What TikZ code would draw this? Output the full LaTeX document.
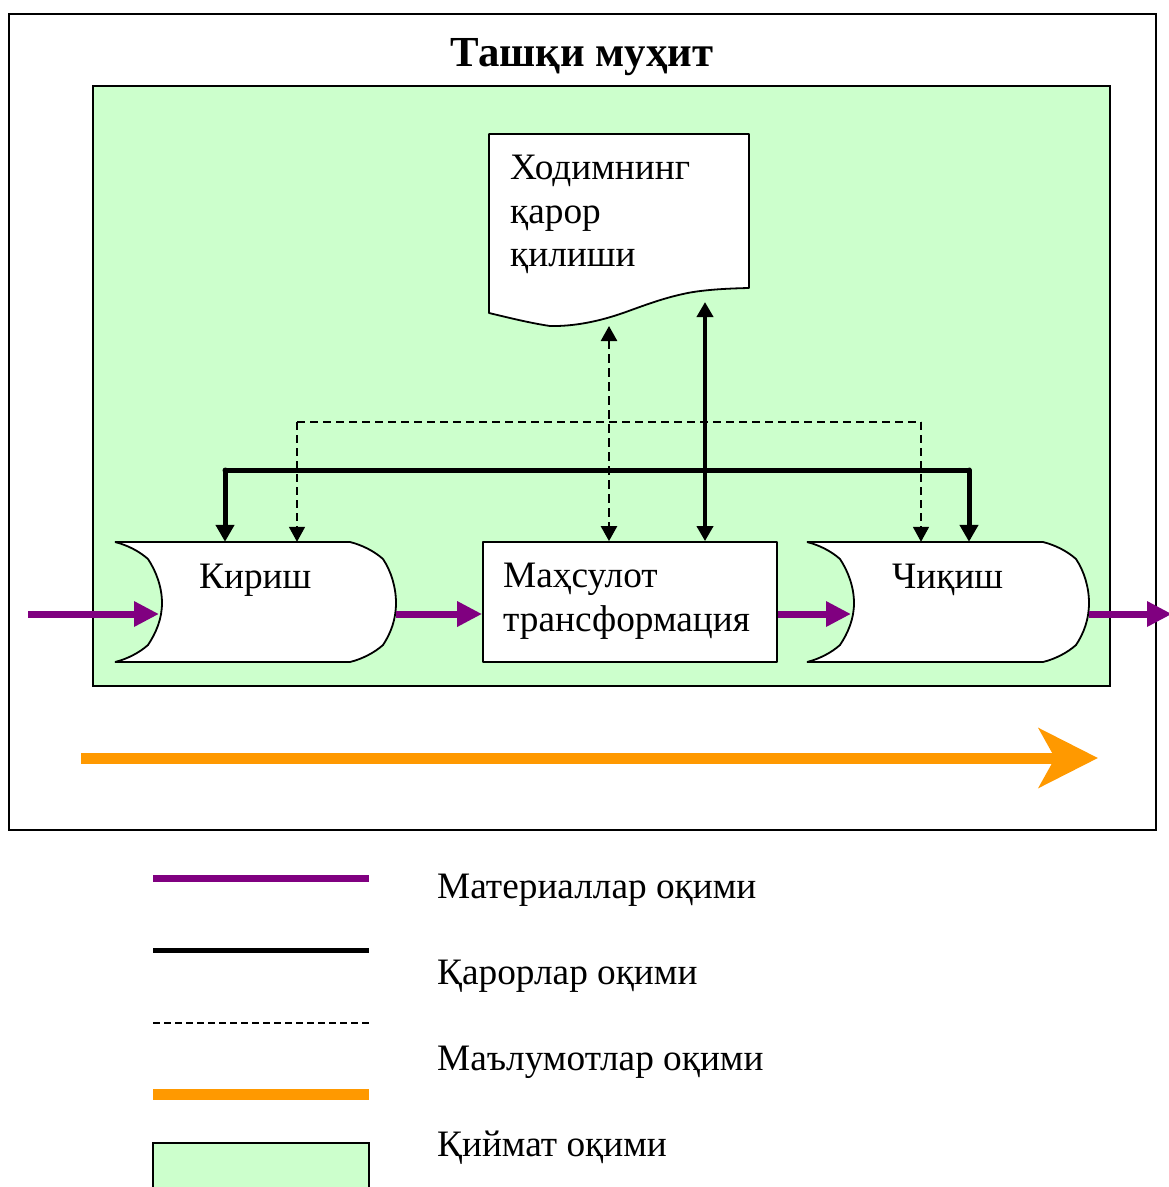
\documentclass[tikz,border=0pt]{standalone}
\usepackage{fontspec}
\setmainfont{Liberation Serif}
\usetikzlibrary{arrows.meta}
\definecolor{lgreen}{HTML}{CCFFCC}
\definecolor{mpurple}{HTML}{800080}
\definecolor{morange}{HTML}{FF9900}
\tikzset{
  lbl/.style={anchor=base west,inner sep=0,font=\fontsize{37.3}{43}\selectfont,text=black},
  anchorbox/.style={inner sep=0,minimum height=120pt},
  shapeline/.style={draw=black,line width=1.8pt,fill=white,line join=bevel},
  matflow/.style={draw=mpurple,line width=7pt,-{Triangle[length=25pt,width=24pt]}},
  decflow/.style={draw=black,line width=5pt,line cap=round},
  decarrow/.style={decflow,-{Triangle[length=17pt,width=18pt]}},
  infoflow/.style={draw=black,line width=1.7pt,dash pattern=on 8pt off 5pt},
  infoarrow/.style={infoflow,-{Triangle[length=15pt,width=16pt]}},
  infodouble/.style={draw=black,line width=2.5pt,dash pattern=on 9pt off 5pt,{Triangle[length=15pt,width=16pt]}-{Triangle[length=15pt,width=16pt]}},
  solidouble/.style={draw=black,line width=4pt,{Triangle[length=15pt,width=16pt]}-{Triangle[length=15pt,width=16pt]}},
}
\begin{document}
\begin{tikzpicture}[x=1pt,y=-1pt]
\useasboundingbox (0,0) rectangle (1169,1187);
\fill[white] (0,0) rectangle (1169,1187);
\draw[line width=2pt] (9,14) rectangle (1156,830);
\draw[line width=2pt,fill=lgreen] (93,86) rectangle (1110,686);
\node[anchor=base,inner sep=0,font=\fontsize{42.8}{46}\selectfont\bfseries,text=black] (title) at (582,66) {Ташқи муҳит};

% document
\draw[shapeline] (489,134) -- (749,134) -- (749,288) .. controls (725,288.5) and (700,290) .. (683,294)
  .. controls (660,299) and (640,307) .. (623,313) .. controls (600,321) and (575,326.5) .. (550,326)
  .. controls (530,323) and (510,318) .. (489,313) -- cycle;
\node[inner sep=0,minimum width=260pt,minimum height=192pt] (doc) at (619,230) {};
\node[lbl] (doctext1) at (510,179) {Ходимнинг};
\node[lbl] (doctext2) at (510,223) {қарор};
\node[lbl] (doctext3) at (510,266) {қилиши};

% input and output shapes
\draw[shapeline] (115,542) -- (350,542) .. controls (362,545) and (374,551) .. (383,559)
  .. controls (391,571) and (396,587) .. (396,603) .. controls (396,619) and (391,633) .. (383,645)
  .. controls (374,653) and (362,659) .. (350,662) -- (115,662) .. controls (127,659) and (139,653) .. (148,645)
  .. controls (156,633) and (162,619) .. (162,603) .. controls (162,587) and (156,571) .. (148,559)
  .. controls (139,551) and (127,545) .. (115,542) -- cycle;
\node[anchorbox,minimum width=281pt] (kirish) at (255.5,602) {};
\node[lbl] (kirishtext) at (199,588) {Кириш};

\draw[shapeline] (807,542) -- (1043,542) .. controls (1055,545) and (1067,551) .. (1076,559)
  .. controls (1084,571) and (1089,587) .. (1089,603) .. controls (1089,619) and (1084,633) .. (1076,645)
  .. controls (1067,653) and (1055,659) .. (1043,662) -- (807,662) .. controls (819,659) and (831,653) .. (840,645)
  .. controls (848,633) and (854,619) .. (854,603) .. controls (854,587) and (848,571) .. (840,559)
  .. controls (831,551) and (819,545) .. (807,542) -- cycle;
\node[anchorbox,minimum width=282pt] (chiqish) at (948,602) {};
\node[lbl] (chiqishtext) at (892,588) {Чиқиш};

% transformation
\node[shapeline,inner sep=0,minimum width=294pt,minimum height=120pt] (trans) at (630,602) {};
\node[lbl] (transtext1) at (503,587) {Маҳсулот};
\node[lbl] (transtext2) at (503,631) {трансформация};

% helper coordinates
\coordinate (flow) at (0,614);
\coordinate (start) at (28,614);
\coordinate (kirishin) at (159,614);
\coordinate (chiqishin) at (851,614);
\coordinate (exit) at (1172,614);
\coordinate (busL) at (225,470);
\coordinate (busR) at (969,470);
\coordinate (infoL) at (297,422);
\coordinate (infoR) at (921,422);
\coordinate (docA) at (609,326);
\coordinate (docB) at (705,302);

% dashed information lines
\draw[infoflow] (infoL) -- (infoR);
\draw[infoarrow] (infoL) -- (infoL |- kirish.north);
\draw[infoarrow] (infoR) -- (infoR |- chiqish.north);
\draw[infodouble] (docA) -- (docA |- trans.north);

% decision lines
\draw[decflow] (busL) -- (busR);
\draw[decarrow] (busL) -- (busL |- kirish.north);
\draw[decarrow] (busR) -- (busR |- chiqish.north);
\draw[solidouble] (docB) -- (docB |- trans.north);

% material flow
\draw[matflow] (start) -- (kirishin);
\draw[matflow] (kirish.east |- flow) -- (trans.west |- flow);
\draw[matflow] (trans.east |- flow) -- (chiqishin);
\draw[matflow] (chiqish.east |- flow) -- (exit);

% value flow
\coordinate (valstart) at (81,758);
\coordinate (valend) at (1098,758);
\draw[draw=morange,line width=11pt,-{Stealth[length=59pt,width=59pt,inset=16pt]}] (valstart) -- (valend);

% legend
\coordinate (lgA1) at (153,878); \coordinate (lgA2) at (369,878);
\coordinate (lgB1) at (153,950); \coordinate (lgB2) at (369,950);
\coordinate (lgC1) at (153,1023); \coordinate (lgC2) at (369,1023);
\coordinate (lgD1) at (153,1094); \coordinate (lgD2) at (369,1094);
\draw[draw=mpurple,line width=7pt] (lgA1) -- (lgA2);
\draw[draw=black,line width=5pt] (lgB1) -- (lgB2);
\draw[draw=black,line width=1.5pt,dash pattern=on 7pt off 4pt] (lgC1) -- (lgC2);
\draw[draw=morange,line width=11pt] (lgD1) -- (lgD2);
\draw[line width=2pt,fill=lgreen] (153,1143) rectangle (369,1195);
\node[lbl] (lg1) at (437,898) {Материаллар оқими};
\node[lbl] (lg2) at (437,984) {Қарорлар оқими};
\node[lbl] (lg3) at (437,1070) {Маълумотлар оқими};
\node[lbl] (lg4) at (437,1156) {Қиймат оқими};
\end{tikzpicture}
\end{document}
